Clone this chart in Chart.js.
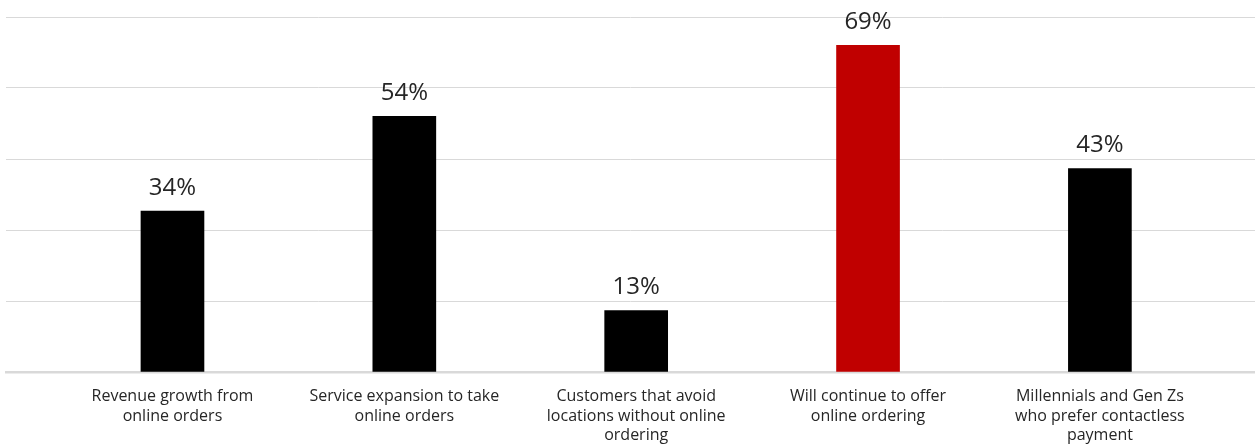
<!DOCTYPE html>
<html>
<head>
<meta charset="utf-8">
<script src="https://cdn.jsdelivr.net/npm/chart.js@4"></script>
<style>
  html, body { margin: 0; padding: 0; background: #fff; }
  #wrap { width: 1255px; height: 445px; }
</style>
</head>
<body>
<div id="wrap"><canvas id="chart"></canvas></div>
<script>
// Categories (already split into the lines used in the picture)
const categories = [
    ['Revenue growth from', 'online orders'],
    ['Service expansion to take', 'online orders'],
    ['Customers that avoid', 'locations without online', 'ordering'],
    ['Will continue to offer', 'online ordering'],
    ['Millennials and Gen Zs', 'who prefer contactless', 'payment']
];
const values = [34, 54, 13, 69, 43];
const barColors = ['#000000', '#000000', '#000000', '#c00000', '#000000'];
const yTicks = [0, 15, 30, 45, 60, 75];

const FONT = "'Open Sans', 'Noto Sans', sans-serif";

// Draws the percentage above each bar
const valueLabels = {
    id: 'valueLabels',
    afterDatasetsDraw(chart) {
        const ctx = chart.ctx;
        const meta = chart.getDatasetMeta(0);
        ctx.save();
        ctx.font = '24px ' + FONT;
        ctx.fillStyle = '#262626';
        ctx.textAlign = 'center';
        ctx.textBaseline = 'alphabetic';
        meta.data.forEach((bar, i) => {
            ctx.fillText(values[i] + '%', bar.x, bar.y - 16);
        });
        ctx.restore();
    }
};

const ctx = document.getElementById('chart').getContext('2d');
const chart = new Chart(ctx, {
    type: 'bar',
    data: {
        datasets: [{
            data: values.map((v, i) => ({ x: i, y: v })),
            backgroundColor: barColors,
            barThickness: 63
        }]
    },
    options: {
        responsive: true,
        maintainAspectRatio: false,
        animation: false,
        layout: { padding: { top: 17, left: 6, right: 0, bottom: 0 } },
        plugins: {
            legend: { display: false },
            tooltip: { enabled: false }
        },
        scales: {
            x: {
                type: 'linear',
                min: -0.718,
                max: 4.669,
                offset: false,
                grid: { display: false, offset: false },
                border: { display: true, color: '#d9d9d9', width: 2.5 },
                afterBuildTicks: scale => {
                    scale.ticks = categories.map((c, i) => ({ value: i }));
                },
                afterFit: scale => { scale.height = 73; },
                ticks: {
                    autoSkip: false,
                    maxRotation: 0,
                    padding: 7,
                    color: '#262626',
                    font: { family: FONT, size: 16, lineHeight: 1.22 },
                    callback: value => categories[value]
                }
            },
            y: {
                min: 0,
                max: 75,
                afterBuildTicks: scale => {
                    scale.ticks = yTicks.map(v => ({ value: v }));
                },
                afterFit: scale => { scale.width = 0; },
                grid: { color: '#d9d9d9', lineWidth: 1, drawTicks: false },
                border: { display: false },
                ticks: { display: false }
            }
        }
    },
    plugins: [valueLabels]
});
</script>
</body>
</html>
